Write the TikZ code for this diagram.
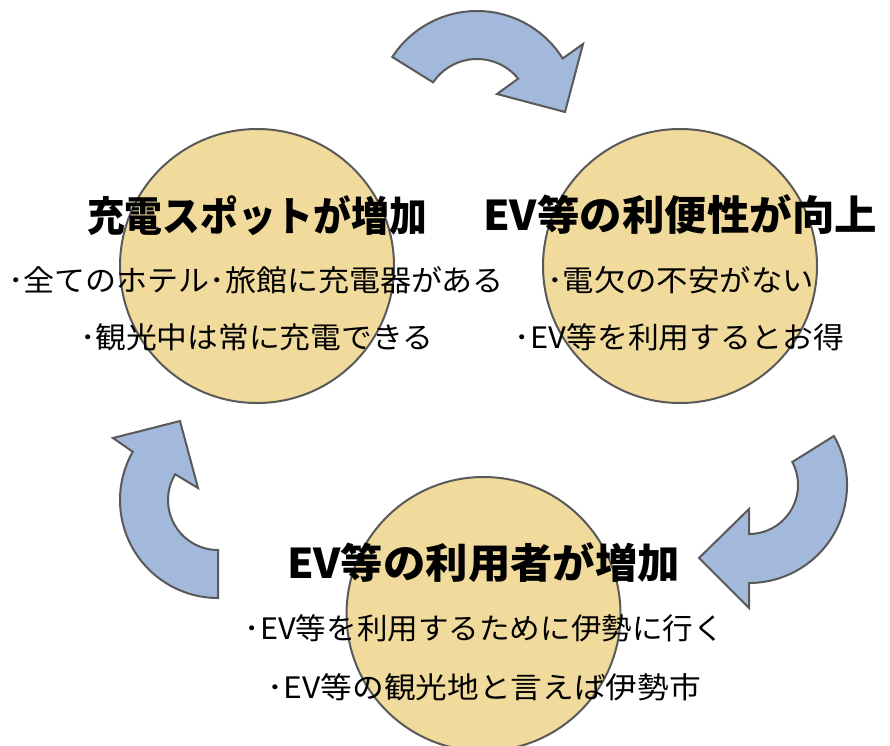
\documentclass[tikz,border=0pt]{standalone}
\usepackage{fontspec}
\usepackage{graphicx}
\newfontfamily\jp{Noto Sans CJK JP}
\definecolor{circfill}{HTML}{F0DA9C}
\definecolor{arrowfill}{HTML}{A2B9DB}
\definecolor{strokegray}{HTML}{595959}
\tikzset{
  circ/.style={circle, draw=strokegray, line width=2pt, fill=circfill, minimum size=274pt, inner sep=0pt},
  blockarrow/.style={draw=strokegray, line width=2pt, fill=arrowfill, line join=miter},
  ttl/.style={inner sep=0pt, anchor=center, font=\jp\bfseries\fontsize{41}{44}\selectfont},
  body/.style={inner sep=0pt, anchor=center, font=\jp\fontsize{29.5}{32}\selectfont},
}
\newcommand\fitw[2]{\resizebox{#1pt}{\height}{#2}}
\begin{document}
\begin{tikzpicture}[x=1pt,y=-1pt]
\useasboundingbox (0,0) rectangle (890,745);
% circles
\node[circ] (c1) at (257,266) {};
\node[circ] (c2) at (680,266) {};
\node[circ] (c3) at (483.5,614) {};
% arrow centres
\coordinate (a1) at (477,112);
\coordinate (a2) at (749,485);
\coordinate (a3) at (218,500);
% top arrow
\draw[blockarrow] ([shift={(-147:101)}]a1) arc[start angle=-147, end angle=-32, radius=101]
  -- (583,44) -- (565,112) -- (497,94)
  -- ([shift={(-39:53)}]a1) arc[start angle=-39, end angle=-146, radius=53] -- cycle;
% right arrow
\draw[blockarrow] ([shift={(-30:98)}]a2) arc[start angle=-30, end angle=90, radius=98]
  -- (749,608) -- (699,558) -- (749,509)
  -- ([shift={(90:49)}]a2) arc[start angle=90, end angle=-28, radius=49] -- cycle;
% left arrow
\draw[blockarrow] ([shift={(90:98)}]a3) arc[start angle=90, end angle=209.5, radius=98]
  -- (113,438) -- (180,421) -- (198,488)
  -- ([shift={(211:50)}]a3) arc[start angle=211, end angle=90, radius=50] -- cycle;
% titles
\node[ttl] (t1) at (257,216) {\fitw{340}{充電スポットが増加}};
\node[ttl] (t2) at (680,214) {\fitw{394}{EV等の利便性が向上}};
\node[ttl] (t3) at (483.5,563) {\fitw{393}{EV等の利用者が増加}};
% body texts
\node[body] (b1a) at (256,280) {\fitw{496}{･全てのホテル･旅館に充電器がある}};
\node[body] (b1b) at (256.5,337) {\fitw{353}{･観光中は常に充電できる}};
\node[body] (b2a) at (680.5,280) {\fitw{267}{･電欠の不安がない}};
\node[body] (b2b) at (679.5,337) {\fitw{329}{･EV等を利用するとお得}};
\node[body] (b3a) at (484.5,628) {\fitw{479}{･EV等を利用するために伊勢に行く}};
\node[body] (b3b) at (484.5,687) {\fitw{433}{･EV等の観光地と言えば伊勢市}};
\end{tikzpicture}
\end{document}
